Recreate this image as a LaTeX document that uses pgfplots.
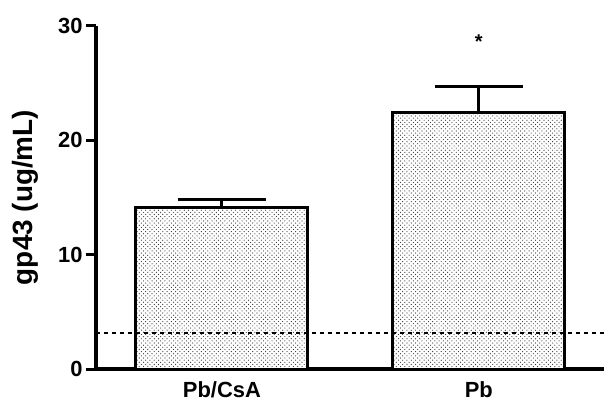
\documentclass[border=0pt]{standalone}
\usepackage{pgfplots}
\pgfplotsset{compat=1.18}
\usepackage{fontspec}
\setmainfont{Liberation Sans}
\usetikzlibrary{patterns}
\pgfdeclarepatternformonly{mydots}{\pgfqpoint{-1pt}{-1pt}}{\pgfqpoint{5pt}{5pt}}{\pgfqpoint{4.3pt}{4.3pt}}{%
  \pgfpathcircle{\pgfqpoint{0pt}{0pt}}{.6pt}%
  \pgfpathcircle{\pgfqpoint{2.15pt}{2.15pt}}{.6pt}%
  \pgfusepath{fill}}
\begin{document}
\begin{tikzpicture}
\useasboundingbox (-96bp,-34bp) rectangle (508bp,369bp);
\begin{axis}[
  at={(0,0)}, anchor=south west,
  scale only axis,
  width=508bp, height=343bp,
  xmin=-0.49, xmax=1.487,
  ymin=0, ymax=30,
  axis x line=bottom, axis y line=left,
  axis line style={line width=4bp, -},
  xtick={0,1}, xticklabels={Pb/CsA, Pb},
  ytick={0,10,20,30},
  major x tick style={draw=none},
  major y tick style={line width=3bp, black},
  major tick length=10bp,
  tick align=outside,
  /pgf/number format/assume math mode=true,
  ticklabel style={font=\fontsize{22}{22}\selectfont\bfseries},
  xticklabel style={yshift=1bp},
  ylabel={gp43 (ug/mL)},
  ylabel style={font=\fontsize{28}{28}\selectfont\bfseries, at={(axis description cs:-0.14,0.5)}, anchor=center},
  clip=false,
]
\addplot[ybar, bar width=0.669, draw=black, line width=3bp, fill=white,
  postaction={pattern=mydots, pattern color=black!80},
  error bars/.cd, y dir=plus, y explicit,
  error bar style={line width=3bp, black},
  error mark options={line width=3bp, black, mark size=44bp, rotate=90}]
  coordinates {(0,14.1) +- (0,0.75) (1,22.4) +- (0,2.35)};
\addplot[black, line width=1.6bp, dash pattern=on 4bp off 4bp] coordinates {(-0.49,3.15) (1.487,3.15)};
\node[font=\fontsize{20}{20}\selectfont\bfseries] at (axis cs:1,28.6) {*};
\end{axis}
\end{tikzpicture}
\end{document}
